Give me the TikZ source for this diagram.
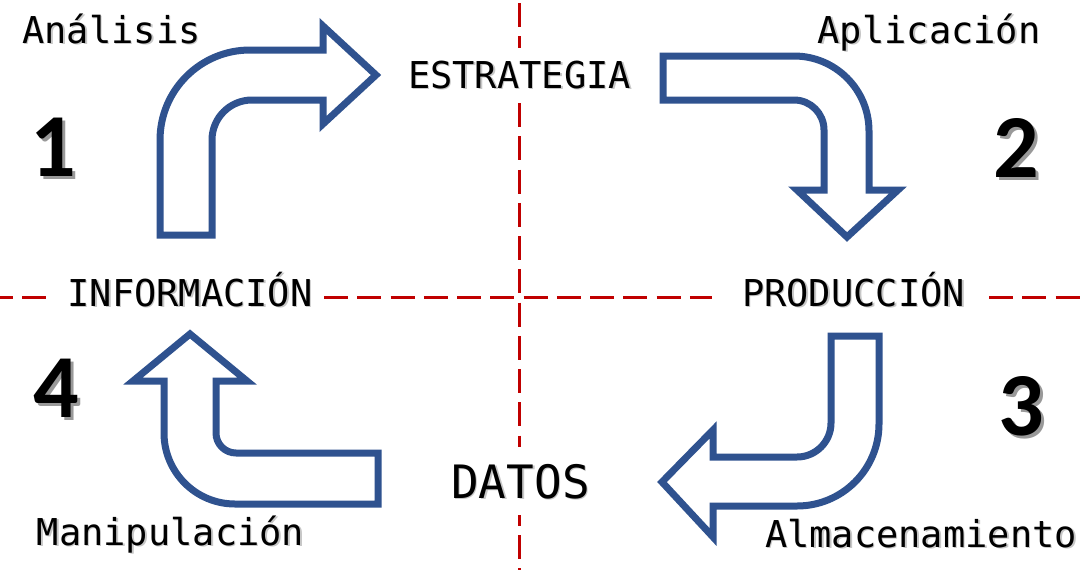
\documentclass[tikz,border=0pt]{standalone}
\usepackage{fontspec}
\newfontfamily\monofont{DejaVu Sans Mono}
\newfontfamily\numfont{Carlito}
\definecolor{arrowblue}{HTML}{2F528F}
\definecolor{sepred}{HTML}{C00000}
\newcommand{\shadowdigit}[1]{\rlap{\kern3pt\raisebox{-3pt}{\textcolor{black!40}{#1}}}#1}
\begin{document}
\begin{tikzpicture}[x=1pt,y=1pt,yscale=-1,
  sep/.style={draw=sepred, line width=3pt, dash pattern=on 24pt off 9.25pt},
  bent/.style={draw=arrowblue, line width=7pt, fill=white, line join=miter, miter limit=10},
  lbl/.style={font=\monofont\fontsize{37}{40}\selectfont, anchor=base, inner sep=0pt, text=black},
  lblsh/.style={lbl, text=black!22},
  big/.style={font=\monofont\fontsize{46}{50}\selectfont, anchor=base, inner sep=0pt, text=black},
  bigsh/.style={big, text=black!22},
  num/.style={font=\numfont\bfseries\fontsize{90}{90}\selectfont, anchor=base, inner sep=0pt, text=black}]
\useasboundingbox (0,0) rectangle (1086,570);
\fill[white] (0,0) rectangle (1086,570);
% separators
\draw[sep, dash phase=11.25pt] (0,297) -- (46,297);
\draw[sep] (324,297) -- (712,297);
\draw[sep] (989,297) -- (1086,297);
\draw[sep] (519,3) -- (519,48);
\draw[sep] (519,103) -- (519,447);
\draw[sep, dash phase=13.25pt] (519,515) -- (519,570);
% bent arrows
\draw[bent] (160,235) -- (160,140) arc[start angle=180, end angle=270, radius=90pt]
  -- (323,50) -- (323,26) -- (376,75) -- (323,124) -- (323,100) -- (252,100)
  arc[start angle=270, end angle=180, radius=40pt] -- (212,235) -- cycle;
\draw[bent] (663,56) -- (794,56) arc[start angle=270, end angle=360, radius=75pt]
  -- (869,190) -- (898,190) -- (847,237) -- (797,190) -- (824,190) -- (824,130)
  arc[start angle=0, end angle=-90, radius=30pt] -- (663,100) -- cycle;
\draw[bent] (831,336) -- (879,336) -- (879,424) arc[start angle=0, end angle=90, radius=82pt]
  -- (713,506) -- (713,537) -- (662,482) -- (713,430) -- (713,457) -- (797,457)
  arc[start angle=90, end angle=0, radius=34pt] -- cycle;
\draw[bent] (378,453) -- (378,504) -- (235,504) arc[start angle=90, end angle=180, radius=71pt]
  -- (164,381) -- (133,381) -- (190,334) -- (247,381) -- (216,381) -- (216,433)
  arc[start angle=180, end angle=90, radius=20pt] -- cycle;
% labels (shadow first)
\node[lblsh] (analisis-s) at (113,44.5) {Análisis};
\node[lbl] (analisis) at (111.5,43) {Análisis};
\node[lblsh] (aplicacion-s) at (930.5,44.5) {Aplicación};
\node[lbl] (aplicacion) at (929,43) {Aplicación};
\node[lblsh] (estrategia-s) at (521,89.5) {ESTRATEGIA};
\node[lbl] (estrategia) at (519.5,88) {ESTRATEGIA};
\node[lblsh] (informacion-s) at (191.5,307.5) {INFORMACIÓN};
\node[lbl] (informacion) at (190,306) {INFORMACIÓN};
\node[lblsh] (produccion-s) at (855,307.5) {PRODUCCIÓN};
\node[lbl] (produccion) at (853.5,306) {PRODUCCIÓN};
\node[bigsh] (datos-s) at (522,499.5) {DATOS};
\node[big] (datos) at (520.5,498) {DATOS};
\node[lblsh] (manipulacion-s) at (172,546.5) {Manipulación};
\node[lbl] (manipulacion) at (170.5,545) {Manipulación};
\node[lblsh] (almacen-s) at (922.5,548.5) {Almacenamiento};
\node[lbl] (almacen) at (921,547) {Almacenamiento};
% step numbers
\node[num] (n1) at (53,176) {\shadowdigit{1}};
\node[num] (n2) at (1016,177) {\shadowdigit{2}};
\node[num] (n3) at (1021,435) {\shadowdigit{3}};
\node[num] (n4) at (56,417) {\shadowdigit{4}};
\end{tikzpicture}
\end{document}
